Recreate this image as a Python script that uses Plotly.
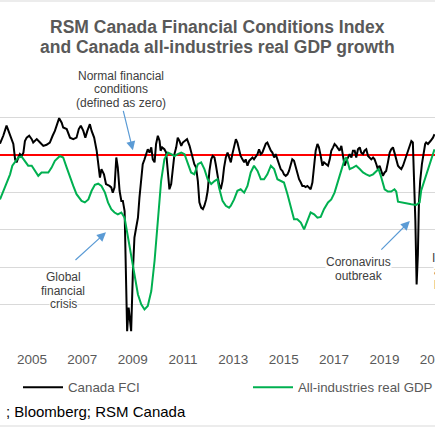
import plotly.graph_objects as go

# ---------------- data ----------------
fci_year = [2003.73, 2003.86, 2003.99, 2004.09, 2004.19, 2004.26, 2004.33, 2004.39, 2004.46, 2004.52,
            2004.59, 2004.66, 2004.72, 2004.79, 2004.89, 2004.99, 2005.05, 2005.19, 2005.32, 2005.45,
            2005.58, 2005.71, 2005.82, 2005.91, 2006.00, 2006.08, 2006.18, 2006.24, 2006.38, 2006.51,
            2006.64, 2006.77, 2006.86, 2006.94, 2007.04, 2007.12, 2007.20, 2007.30, 2007.37, 2007.47,
            2007.57, 2007.63, 2007.70, 2007.76, 2007.86, 2007.94, 2008.02, 2008.08, 2008.15, 2008.21,
            2008.28, 2008.35, 2008.41, 2008.48, 2008.55, 2008.61, 2008.68, 2008.74, 2008.78, 2008.84,
            2008.89, 2008.94, 2009.01, 2009.07, 2009.14, 2009.21, 2009.27, 2009.34, 2009.40, 2009.47,
            2009.54, 2009.60, 2009.67, 2009.74, 2009.80, 2009.87, 2009.93, 2010.00, 2010.07, 2010.11,
            2010.17, 2010.26, 2010.33, 2010.40, 2010.46, 2010.53, 2010.60, 2010.66, 2010.73, 2010.79,
            2010.86, 2010.93, 2010.99, 2011.08, 2011.16, 2011.26, 2011.32, 2011.39, 2011.45, 2011.52,
            2011.59, 2011.65, 2011.72, 2011.79, 2011.85, 2011.92, 2011.98, 2012.05, 2012.12, 2012.18,
            2012.25, 2012.30, 2012.37, 2012.43, 2012.50, 2012.57, 2012.63, 2012.70, 2012.77, 2012.83,
            2012.90, 2012.96, 2013.03, 2013.10, 2013.16, 2013.23, 2013.29, 2013.36, 2013.43, 2013.49,
            2013.56, 2013.63, 2013.69, 2013.76, 2013.82, 2013.89, 2013.96, 2014.02, 2014.09, 2014.15,
            2014.22, 2014.29, 2014.35, 2014.42, 2014.49, 2014.55, 2014.62, 2014.68, 2014.75, 2014.82,
            2014.88, 2014.95, 2015.01, 2015.08, 2015.15, 2015.21, 2015.28, 2015.34, 2015.41, 2015.48,
            2015.54, 2015.61, 2015.68, 2015.74, 2015.81, 2015.87, 2015.94, 2016.01, 2016.07, 2016.14,
            2016.21, 2016.27, 2016.34, 2016.40, 2016.47, 2016.54, 2016.60, 2016.69, 2016.76, 2016.83,
            2016.89, 2016.96, 2017.02, 2017.09, 2017.16, 2017.22, 2017.29, 2017.35, 2017.42, 2017.49,
            2017.55, 2017.62, 2017.69, 2017.75, 2017.82, 2017.88, 2017.95, 2018.02, 2018.08, 2018.15,
            2018.21, 2018.28, 2018.35, 2018.41, 2018.48, 2018.55, 2018.61, 2018.68, 2018.74, 2018.81,
            2018.88, 2018.94, 2019.01, 2019.07, 2019.14, 2019.21, 2019.27, 2019.34, 2019.40, 2019.47,
            2019.54, 2019.60, 2019.67, 2019.74, 2019.80, 2019.87, 2019.93, 2020.00, 2020.07, 2020.13,
            2020.17, 2020.23, 2020.28, 2020.33, 2020.37, 2020.42, 2020.49, 2020.56, 2020.62, 2020.66,
            2020.73, 2020.83, 2020.93, 2020.99]
fci_value = [0.30, 0.51, 0.78, 0.60, 0.37, 0.29, -0.12, -0.20, -0.07, 0.02,
             -0.03, 0.06, 0.37, 0.46, 0.51, 0.42, 0.33, 0.42, 0.33, 0.24,
             0.27, 0.33, 0.51, 0.64, 0.82, 0.98, 0.86, 0.73, 0.69, 0.46,
             0.42, 0.46, 0.69, 0.78, 0.64, 0.46, 0.64, 0.82, 0.64, 0.46,
             0.11, -0.25, -0.61, -0.38, -0.52, -0.78, -0.80, -0.83, -0.87, -1.01,
             -0.87, -0.07, -0.34, -0.96, -1.23, -1.23, -1.50, -3.10, -4.71, -4.08,
             -4.35, -4.71, -3.10, -2.21, -1.94, -1.68, -1.14, -0.61, -0.25, -0.12,
             0.02, 0.15, 0.06, 0.20, -0.12, -0.20, 0.29, 0.51, 0.37, 0.11,
             0.20, 0.15, 0.06, -0.43, -0.92, -0.78, -0.43, 0.02, 0.20, 0.46,
             0.37, 0.24, 0.33, 0.37, 0.42, 0.24, 0.06, -0.16, -0.25, -0.34,
             -0.70, -1.27, -1.41, -1.45, -1.36, -1.19, -0.96, -0.43, -0.12, -0.03,
             -0.07, -0.25, -0.56, -0.78, -0.92, -0.70, -0.34, -0.07, 0.06, -0.07,
             -0.20, 0.02, 0.24, 0.42, 0.33, 0.11, -0.03, -0.12, -0.20, -0.12,
             -0.29, -0.16, -0.12, -0.07, -0.12, -0.03, 0.02, 0.15, 0.02, 0.06,
             0.20, 0.30, 0.33, 0.20, 0.11, 0.06, -0.07, 0.02, -0.12, -0.29,
             -0.38, -0.43, -0.52, -0.56, -0.52, -0.43, -0.25, -0.12, -0.16, -0.34,
             -0.47, -0.65, -0.74, -0.83, -0.83, -0.86, -0.83, -0.87, -0.92, -0.74,
             -0.34, 0.11, 0.29, 0.20, -0.03, -0.29, -0.20, -0.25, -0.29, -0.12,
             0.11, 0.20, 0.29, 0.24, 0.15, 0.11, 0.24, -0.07, -0.29, -0.16,
             -0.07, 0.02, -0.07, 0.11, 0.11, -0.07, 0.15, 0.20, 0.06, 0.02,
             0.11, 0.15, -0.03, -0.07, -0.12, -0.07, -0.12, -0.25, -0.38, -0.29,
             -0.43, -0.56, -0.47, -0.43, -0.20, 0.06, 0.15, 0.20, 0.06, -0.12,
             -0.29, -0.34, -0.38, -0.29, -0.16, -0.07, 0.06, 0.24, 0.37, 0.33,
             -0.43, -1.76, -3.46, -2.66, -1.32, -0.70, -0.25, 0.11, 0.29, 0.33,
             0.29, 0.37, 0.46, 0.55]

gdp_year = [2003.73, 2003.86, 2003.99, 2004.13, 2004.22, 2004.33, 2004.46, 2004.59, 2004.72, 2004.85,
            2004.99, 2005.12, 2005.25, 2005.38, 2005.52, 2005.65, 2005.78, 2005.91, 2006.11, 2006.24,
            2006.38, 2006.51, 2006.64, 2006.77, 2006.97, 2007.10, 2007.24, 2007.37, 2007.50, 2007.63,
            2007.76, 2007.90, 2008.02, 2008.15, 2008.28, 2008.41, 2008.55, 2008.68, 2008.81, 2008.94,
            2009.07, 2009.21, 2009.34, 2009.47, 2009.60, 2009.74, 2009.87, 2010.00, 2010.13, 2010.26,
            2010.40, 2010.53, 2010.66, 2010.79, 2010.93, 2011.06, 2011.19, 2011.32, 2011.45, 2011.59,
            2011.72, 2011.85, 2011.98, 2012.12, 2012.25, 2012.37, 2012.43, 2012.50, 2012.57, 2012.70,
            2012.83, 2012.90, 2013.03, 2013.16, 2013.29, 2013.43, 2013.56, 2013.69, 2013.82, 2013.96,
            2014.09, 2014.22, 2014.35, 2014.49, 2014.62, 2014.75, 2014.88, 2015.01, 2015.15, 2015.28,
            2015.41, 2015.54, 2015.68, 2015.81, 2015.94, 2016.07, 2016.21, 2016.34, 2016.47, 2016.60,
            2016.76, 2016.89, 2017.02, 2017.16, 2017.29, 2017.42, 2017.49, 2017.55, 2017.62, 2017.75,
            2017.88, 2018.02, 2018.15, 2018.28, 2018.41, 2018.55, 2018.68, 2018.77, 2018.88, 2019.01,
            2019.14, 2019.27, 2019.40, 2019.47, 2019.54, 2019.67, 2019.87, 2020.07, 2020.26, 2020.40,
            2020.46, 2020.60, 2020.73, 2020.86, 2020.99]
gdp_value = [-1.19, -0.96, -0.78, -0.52, -0.29, -0.20, -0.07, -0.05, -0.16, -0.29,
             -0.29, -0.43, -0.56, -0.47, -0.47, -0.47, -0.34, -0.16, -0.03, -0.07,
             -0.34, -0.61, -0.83, -1.05, -1.23, -1.27, -1.19, -0.96, -0.80, -0.77,
             -0.83, -1.01, -1.27, -1.45, -1.54, -1.59, -1.54, -1.68, -2.21, -2.75,
             -3.28, -3.73, -3.99, -4.13, -4.04, -3.64, -2.83, -1.76, -0.70, -0.12,
             0.06, 0.02, -0.03, 0.02, 0.06, 0.02, -0.25, -0.47, -0.52, -0.25,
             -0.20, -0.38, -0.65, -0.78, -0.70, -0.65, -0.87, -1.05, -1.23, -1.36,
             -1.41, -1.36, -1.19, -0.96, -0.92, -1.01, -0.83, -0.47, -0.29, -0.43,
             -0.65, -0.65, -0.52, -0.29, -0.38, -0.65, -0.70, -0.74, -1.05, -1.41,
             -1.72, -1.72, -1.81, -1.99, -1.76, -1.54, -1.59, -1.68, -1.66, -1.45,
             -1.27, -1.19, -1.01, -0.70, -0.38, -0.12, -0.07, -0.20, -0.38, -0.34,
             -0.29, -0.38, -0.47, -0.52, -0.56, -0.52, -0.43, -0.38, -0.61, -0.92,
             -0.98, -0.98, -0.92, -0.98, -1.25, -1.27, -1.29, -1.32, -1.34, -1.27,
             -0.96, -0.65, -0.38, -0.12, 0.15]

tick_years = [2005, 2007, 2009, 2011, 2013, 2015, 2017, 2019, 2021]
tick_labels = ["2005", "2007", "2009", "2011", "2013", "2015", "2017", "2019", "2021"]

# ---------------- layout helpers ----------------
W, H = 435, 435
TOP, BOTTOM = 80, 342          # plot area in pixels
X_RANGE = [2003.73, 2021.01]
Y_RANGE = [-5, 2]
FONT = "Liberation Sans, Arial, sans-serif"


def py(Y):
    return (BOTTOM - Y) / (BOTTOM - TOP)


def px(X):
    return X / W


fig = go.Figure()
fig.add_trace(go.Scatter(x=fci_year, y=fci_value, mode="lines", name="Canada FCI", legend="legend",
                         line=dict(color="#000000", width=2)))
fig.add_trace(go.Scatter(x=gdp_year, y=gdp_value, mode="lines", name="All-industries real GDP growth",
                         legend="legend2", line=dict(color="#00B050", width=2)))

annotations = []
# title
for text, yc in [("RSM Canada Financial Conditions Index", 27),
                 ("and Canada all-industries real GDP growth", 47)]:
    annotations.append(dict(text="<b>%s</b>" % text, xref="paper", yref="paper", x=px(217.5), y=py(yc),
                            xanchor="center", yanchor="middle", showarrow=False,
                            font=dict(family=FONT, size=17.5, color="#595959")))

note_font = dict(family=FONT, size=12, color="#404040")
for lines, xc, ys, anchor in [
    (["Normal financial", "conditions", "(defined as zero)"], 121, [75.5, 89, 102.5], "center"),
    (["Global", "financial", "crisis"], 63, [277, 290.5, 304], "center"),
    (["Coronavirus", "outbreak"], 358.5, [262, 276], "center"),
]:
    for t, yc in zip(lines, ys):
        annotations.append(dict(text=t, xref="paper", yref="paper", x=px(xc), y=py(yc),
                                xanchor=anchor, yanchor="middle", showarrow=False,
                                bgcolor="white", borderpad=0, font=note_font))
for t, xl, yc in [("Inflation", 431, 257.5), ("and rate", 433, 271), ("hikes", 433, 284.5)]:
    annotations.append(dict(text=t, xref="paper", yref="paper", x=px(xl), y=py(yc),
                            xanchor="left", yanchor="middle", showarrow=False,
                            bgcolor="white", borderpad=0, font=note_font))

# arrows (tip in data coordinates, tail offset in pixels)
for xt, yt, ax, ay in [(2009.01, 0.12, -10, -41), (2007.94, -2.07, -32, 29), (2020.01, -1.77, -30, 30)]:
    annotations.append(dict(text="", x=xt, y=yt, xref="x", yref="y", ax=ax, ay=ay,
                            showarrow=True, arrowhead=2, arrowsize=1.5, arrowwidth=1.2,
                            arrowcolor="#5B9BD5", standoff=0))

# source (as much of it as the reference shows)
annotations.append(dict(text="; Bloomberg; RSM Canada", xref="paper", yref="paper",
                        x=px(188), y=py(411), xanchor="right", yanchor="middle", showarrow=False,
                        font=dict(family=FONT, size=15, color="#000000")))

shapes = []
for Y in [1, 426]:
    shapes.append(dict(type="line", xref="paper", yref="paper", x0=-0.1, x1=1.1, y0=py(Y), y1=py(Y),
                       line=dict(color="#D9D9D9", width=1.2)))

legend_font = dict(family=FONT, size=13.3, color="#595959")
fig.update_layout(
    width=W, height=H, autosize=False,
    margin=dict(l=0, r=0, t=TOP, b=H - BOTTOM, pad=0, autoexpand=False),
    paper_bgcolor="white", plot_bgcolor="white",
    font=dict(family=FONT, color="#595959"),
    showlegend=True,
    legend=dict(orientation="h", x=px(18), y=py(387.5), xanchor="left", yanchor="middle",
                itemwidth=40, font=legend_font, bgcolor="rgba(0,0,0,0)"),
    legend2=dict(orientation="h", x=px(248), y=py(387.5), xanchor="left", yanchor="middle",
                 itemwidth=40, font=legend_font, bgcolor="rgba(0,0,0,0)"),
    annotations=annotations, shapes=shapes,
)
fig.update_xaxes(range=X_RANGE, tickvals=tick_years, ticktext=tick_labels, showgrid=False,
                 zeroline=False, showline=False, ticks="outside", ticklen=5, tickcolor="rgba(0,0,0,0)",
                 ticklabeloverflow="allow",
                 tickfont=dict(family=FONT, size=13.5, color="#595959"))
fig.update_yaxes(range=Y_RANGE, dtick=1, tick0=0, showgrid=True, gridcolor="#D9D9D9", gridwidth=1.2,
                 showticklabels=False, zeroline=True, zerolinecolor="#FF0000", zerolinewidth=1.6,
                 showline=False, ticks="")

fig.write_html("out.html", config={"displayModeBar": False},
               post_script="document.body.style.margin='0px';")
